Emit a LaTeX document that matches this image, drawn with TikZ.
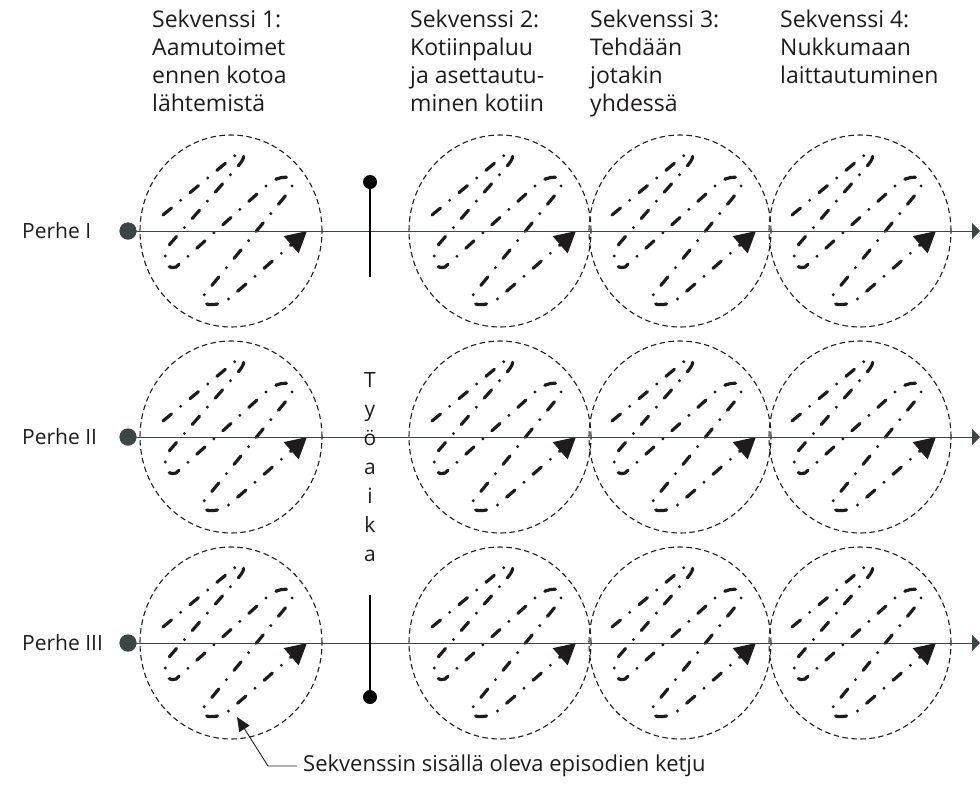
\documentclass[tikz,border=0pt]{standalone}
\usepackage{fontspec}
\setmainfont{Open Sans}
\usetikzlibrary{arrows.meta,shapes.geometric}
\definecolor{slate}{HTML}{3B4747}
\definecolor{ink}{HTML}{1E1B1C}
\tikzset{
  seqcircle/.style={ellipse, draw=ink, line width=1.1pt, dash pattern=on 5.5pt off 3.5pt,
    minimum width=182pt, minimum height=192pt, inner sep=0pt},
  chain/.style={draw=ink, line width=3.2pt, line cap=round,
    dash pattern=on 11pt off 12pt on 0pt off 12pt,
    -{Triangle[length=21pt,width=22pt]}},
  timeline/.style={draw=slate, line width=1pt, -{Triangle[length=8pt,width=16pt]}},
  startdot/.style={circle, fill=slate, minimum size=17pt, inner sep=0pt},
  bardot/.style={circle, fill=black, minimum size=14pt, inner sep=0pt},
  bar/.style={draw=black, line width=2pt},
  lbl/.style={font=\fontsize{21}{28}\selectfont, text=ink, inner sep=0pt},
  headlbl/.style={lbl, font=\fontsize{23}{28}\selectfont, align=left, anchor=north west},
  leader/.style={draw=ink, line width=0.9pt, -{Triangle[length=14pt,width=12pt]}},
}
\begin{document}
\begin{tikzpicture}[x=1pt,y=-1pt]
\useasboundingbox (0,0) rectangle (980,801);

% column headers
\node[headlbl] (h1) at (152,10) {Sekvenssi 1:\\Aamutoimet\\ennen kotoa\\lähtemistä};
\node[headlbl] (h2) at (410,10) {Sekvenssi 2:\\Kotiinpaluu\\ja asettautu-\\minen kotiin};
\node[headlbl] (h3) at (590,10) {Sekvenssi 3:\\Tehdään\\jotakin\\yhdessä};
\node[headlbl] (h4) at (780,10) {Sekvenssi 4:\\Nukkumaan\\laittautuminen};

% rows
\foreach \r/\y/\name in {1/231/Perhe I, 2/437/Perhe II, 3/643/Perhe III}{
  \node[lbl, anchor=west] (p\r) at (22,\y) {\name};
  \foreach \c/\x in {1/231, 2/500, 3/680, 4/860}{
    \node[seqcircle] (c\r\c) at (\x,\y) {};
    \begin{scope}[shift={(c\r\c.center)}]
      \draw[chain] (-68,-16) -- (2,-74) .. controls (12,-83) and (17,-76) .. (8,-66)
        -- (-61,13) .. controls (-70,24) and (-66,40) .. (-55,36)
        -- (36,-46) .. controls (48,-57) and (67,-57) .. (60,-42)
        -- (-27,64) .. controls (-35,75) and (-14,78) .. (0,66)
        -- (76,0);
    \end{scope}
  }
  \node[startdot] (s\r) at (128,\y) {};
  \coordinate (e\r) at (980,\y);
  \draw[timeline] (s\r.center) -- (e\r);
  \node[startdot] at (s\r) {};
}

% working time bar
\node[bardot] (vt) at (370,182) {};
\coordinate (vte) at (370,277);
\draw[bar] (vt.center) -- (vte);
\coordinate (vbs) at (370,595);
\node[bardot] (vb) at (370,697) {};
\draw[bar] (vbs) -- (vb.center);
\node[lbl, align=center, font=\fontsize{21}{29}\selectfont] (tyo) at (370,467) {T\\y\\ö\\a\\i\\k\\a};

% bottom note
\node[lbl, anchor=west, font=\fontsize{22}{28}\selectfont] (note) at (303,766) {Sekvenssin sisällä oleva episodien ketju};
\coordinate (knee) at (268,766);
\coordinate (tip) at (237,717);
\draw[leader] ([xshift=-6pt]note.west) -- (knee) -- (tip);
\end{tikzpicture}
\end{document}
